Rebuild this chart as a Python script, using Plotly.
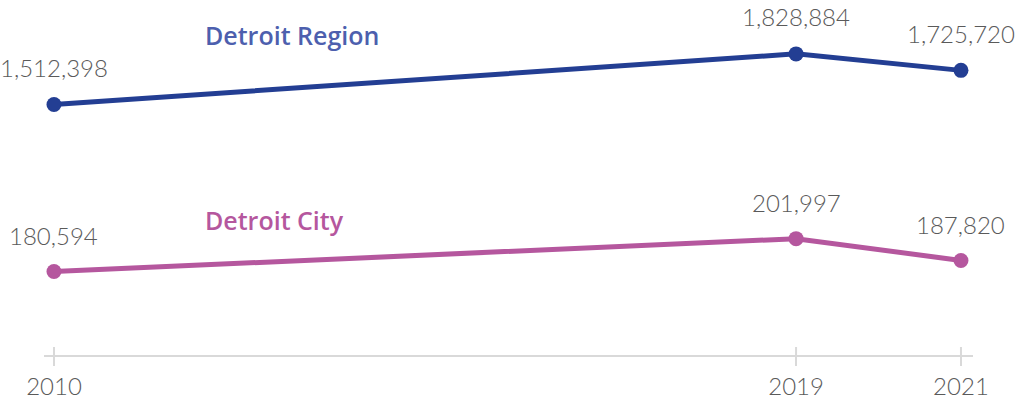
import plotly.graph_objects as go

years = [2010, 2019, 2021]
region_values = [1512398, 1828884, 1725720]
city_values = [180594, 201997, 187820]
region_name = "Detroit Region"
city_name = "Detroit City"
tick_labels = ["2010", "2019", "2021"]

REGION_LINE = "#233e93"
REGION_TEXT = "#4d5fae"
CITY_LINE = "#b5579e"
CITY_TEXT = "#b5579e"
GRAY = "#5a5a5a"
AXIS = "#d9d9d9"
NUM_FONT = dict(family="Lato", size=24, color=GRAY, weight=300)
NAME_FONT = dict(family="Open Sans", size=25, weight=600)

fig = go.Figure()
fig.add_trace(go.Scatter(x=years, y=region_values, mode="lines+markers",
                         line=dict(color=REGION_LINE, width=5),
                         marker=dict(size=15, color=REGION_LINE),
                         yaxis="y", hoverinfo="skip", showlegend=False))
fig.add_trace(go.Scatter(x=years, y=city_values, mode="lines+markers",
                         line=dict(color=CITY_LINE, width=5),
                         marker=dict(size=15, color=CITY_LINE),
                         yaxis="y2", hoverinfo="skip", showlegend=False))

annotations = []
for x, v in zip(years, region_values):
    annotations.append(dict(x=x, y=v, xref="x", yref="y", text=f"{v:,}",
                            showarrow=False, yanchor="middle", yshift=37,
                            font=NUM_FONT))
for x, v in zip(years, city_values):
    annotations.append(dict(x=x, y=v, xref="x", yref="y2", text=f"{v:,}",
                            showarrow=False, yanchor="middle", yshift=36,
                            font=NUM_FONT))
annotations.append(dict(x=203, y=35, xref="paper", yref="paper", text=region_name,
                        showarrow=False, xanchor="left", yanchor="middle",
                        font=dict(NAME_FONT, color=REGION_TEXT)))
annotations.append(dict(x=203, y=221, xref="paper", yref="paper", text=city_name,
                        showarrow=False, xanchor="left", yanchor="middle",
                        font=dict(NAME_FONT, color=CITY_TEXT)))

# convert pixel positions for the label annotations to paper coordinates
L, R, T, B = 44, 51, 0, 43
W, H = 1024, 400
pw, ph = W - L - R, H - T - B
for a in annotations:
    if a["xref"] == "paper":
        a["x"] = (a["x"] - L) / pw
        a["y"] = (H - B - a["y"]) / ph

shapes = [dict(type="line", xref="x", yref="paper", x0=yr, x1=yr,
               ysizemode="pixel", yanchor=0, y0=0, y1=8,
               line=dict(color=AXIS, width=2)) for yr in years]

fig.update_layout(
    width=W, height=H,
    margin=dict(l=L, r=R, t=T, b=B),
    paper_bgcolor="white", plot_bgcolor="white",
    xaxis=dict(range=[2009.879, 2021.146], tickvals=years, ticktext=tick_labels,
               showgrid=False, zeroline=False, showline=True, linecolor=AXIS,
               linewidth=2, ticks="outside", ticklen=9, tickcolor=AXIS, tickwidth=2,
               tickfont=dict(family="Lato", size=24, color=GRAY, weight=300)),
    yaxis=dict(range=[-54930, 2165970], visible=False),
    yaxis2=dict(range=[126248, 357406], visible=False, overlaying="y"),
    annotations=annotations,
    shapes=shapes,
)

fig.write_html("out.html", post_script="document.body.style.margin='0';",
               config={"displayModeBar": False})
